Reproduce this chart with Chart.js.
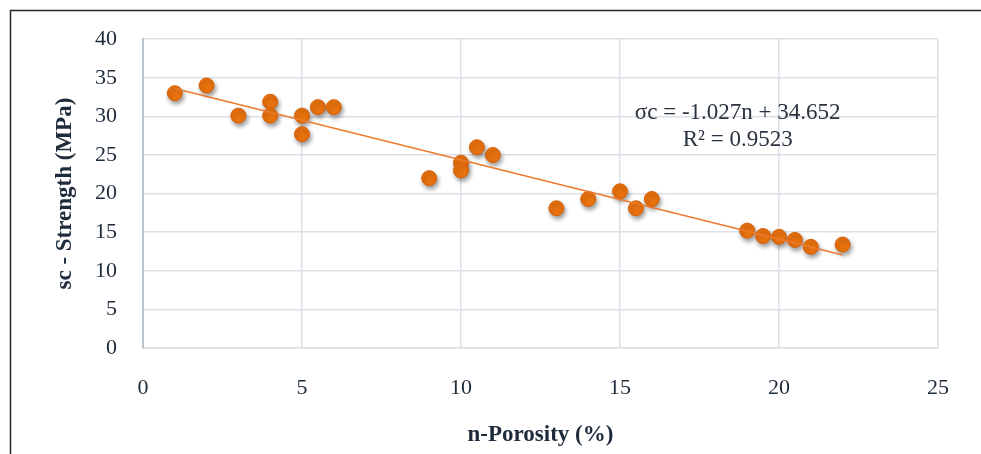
<!DOCTYPE html>
<html>
<head>
<meta charset="utf-8">
<script src="https://cdn.jsdelivr.net/npm/chart.js@4"></script>
<style>
  html, body { margin: 0; padding: 0; background: #ffffff; }
  #wrap { width: 981px; height: 454px; }
</style>
</head>
<body>
<div id="wrap"><canvas id="c" width="981" height="454"></canvas></div>
<script>
// Measured samples: porosity n (%) and uniaxial compressive strength (MPa)
const porosity = [1, 2, 3, 4, 4, 5, 5, 5.5, 6, 9, 10, 10, 10.5, 11, 13, 14, 15, 15.5, 16, 19, 19.5, 20, 20.5, 21, 22];
const strength = [33, 34, 30.1, 31.9, 30.1, 30.1, 27.7, 31.2, 31.2, 22, 24, 23, 26, 25, 18.1, 19.3, 20.3, 18.1, 19.3, 15.2, 14.5, 14.4, 14, 13.1, 13.4];

// Linear fit reported on the chart
const fitSlope = -1.027;
const fitIntercept = 34.652;
const fitR2 = 0.9523;
const fitRange = [1, 22];

const xTicks = [0, 5, 10, 15, 20, 25];
const yTicks = [0, 5, 10, 15, 20, 25, 30, 35, 40];

const points = porosity.map((n, i) => ({ x: n, y: strength[i] }));
const trend = fitRange.map(n => ({ x: n, y: fitSlope * n + fitIntercept }));

const ink = '#1E2B3B';
const serif = "'Liberation Serif', 'Times New Roman', serif";

// Frame lines along the top and left of the figure
const framePlugin = {
  id: 'frame',
  beforeDraw(chart) {
    const ctx = chart.ctx;
    ctx.save();
    ctx.fillStyle = '#ffffff';
    ctx.fillRect(0, 0, chart.width, chart.height);
    ctx.strokeStyle = '#262626';
    ctx.lineWidth = 1.5;
    ctx.beginPath();
    ctx.moveTo(10.5, chart.height);
    ctx.lineTo(10.5, 10.5);
    ctx.lineTo(chart.width, 10.5);
    ctx.stroke();
    ctx.restore();
  }
};

// Soft drop shadow under the markers
const shadowPlugin = {
  id: 'markerShadow',
  beforeDatasetDraw(chart, args) {
    if (args.index !== 1) return;
    const ctx = chart.ctx;
    ctx.save();
    ctx.shadowColor = 'rgba(0,0,0,0.38)';
    ctx.shadowBlur = 4;
    ctx.shadowOffsetX = 1.5;
    ctx.shadowOffsetY = 3;
  },
  afterDatasetDraw(chart, args) {
    if (args.index !== 1) return;
    chart.ctx.restore();
  }
};

// Regression equation text
const equationPlugin = {
  id: 'equation',
  afterDatasetsDraw(chart) {
    const { ctx, scales } = chart;
    const cx = scales.x.getPixelForValue(18.7);
    const cy = scales.y.getPixelForValue(30.4);
    ctx.save();
    ctx.fillStyle = '#2A3340';
    ctx.font = '23px ' + serif;
    ctx.textAlign = 'center';
    ctx.textBaseline = 'middle';
    ctx.fillText('\u03C3c = ' + fitSlope.toFixed(3) + 'n + ' + Math.abs(fitIntercept).toFixed(3), cx, cy);
    ctx.fillText('R\u00B2 = ' + fitR2.toFixed(4), cx, cy + 27);
    ctx.restore();
  }
};

new Chart(document.getElementById('c'), {
  data: {
    datasets: [
      {
        type: 'line',
        data: trend,
        borderColor: '#EB7A2E',
        borderWidth: 1.5,
        pointRadius: 0,
        fill: false
      },
      {
        type: 'scatter',
        data: points,
        backgroundColor: '#E8720E',
        borderColor: '#D9620A',
        borderWidth: 1,
        pointRadius: 7.5,
        pointHoverRadius: 7.5
      }
    ]
  },
  options: {
    responsive: false,
    animation: false,
    devicePixelRatio: 1,
    layout: { padding: { left: 10, top: 37, right: 43, bottom: 0 } },
    plugins: {
      legend: { display: false },
      tooltip: { enabled: false }
    },
    scales: {
      x: {
        type: 'linear',
        min: 0,
        max: 25,
        afterBuildTicks(scale) { scale.ticks = xTicks.map(v => ({ value: v })); },
        afterFit(scale) { scale.height = 106; },
        ticks: { color: ink, font: { family: serif, size: 22 }, padding: 27 },
        grid: { color: '#DCE0E6', lineWidth: 1.5, drawTicks: false },
        border: { color: '#DCE0E6', width: 1.5 },
        title: {
          display: true,
          text: 'n-Porosity (%)',
          color: ink,
          font: { family: serif, size: 23, weight: 'bold' },
          padding: { top: 0, bottom: 5 }
        }
      },
      y: {
        type: 'linear',
        min: 0,
        max: 40,
        afterBuildTicks(scale) { scale.ticks = yTicks.map(v => ({ value: v })); },
        afterFit(scale) { scale.width = 133; },
        ticks: { color: ink, font: { family: serif, size: 22 }, padding: 26 },
        grid: { color: '#DCE0E6', lineWidth: 1.5, drawTicks: false },
        border: { color: '#BCC4CE', width: 2 },
        title: {
          display: true,
          text: 'sc - Strength (MPa)',
          color: ink,
          font: { family: serif, size: 23, weight: 'bold' },
          padding: { top: 41, bottom: 0 }
        }
      }
    }
  },
  plugins: [framePlugin, shadowPlugin, equationPlugin]
});
</script>
</body>
</html>
